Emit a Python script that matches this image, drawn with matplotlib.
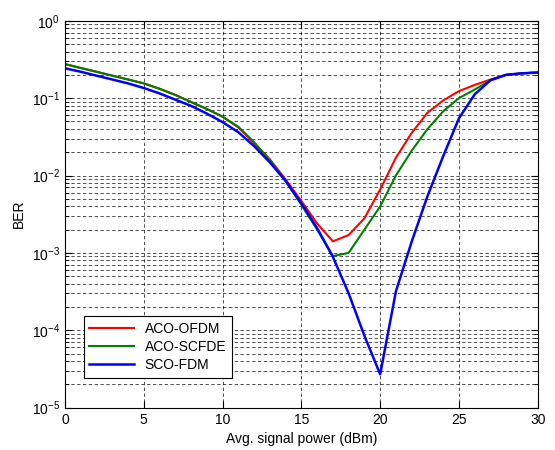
import matplotlib
matplotlib.use('Agg')
import matplotlib.pyplot as plt
from matplotlib.ticker import LogLocator, NullFormatter

plt.rcParams['font.family'] = ['Liberation Sans', 'DejaVu Sans']
plt.rcParams['font.size'] = 10

power = list(range(31))  # dBm

ber_aco_ofdm = [0.275, 0.245, 0.219, 0.195, 0.174, 0.155, 0.132, 0.110, 0.089, 0.0724,
                0.0575, 0.0417, 0.0263, 0.0162, 0.0089, 0.00468, 0.0024, 0.00141, 0.0017, 0.0028,
                0.0066, 0.017, 0.0355, 0.0646, 0.0933, 0.123, 0.148, 0.174, 0.200, 0.209, 0.214]
ber_aco_scfde = [0.275, 0.245, 0.219, 0.195, 0.174, 0.155, 0.132, 0.110, 0.089, 0.0724,
                 0.0575, 0.0427, 0.0269, 0.0158, 0.0085, 0.00417, 0.0020, 0.00091, 0.0010, 0.0020,
                 0.00398, 0.0100, 0.0209, 0.0398, 0.0676, 0.100, 0.129, 0.170, 0.200, 0.209, 0.214]
ber_sco_fdm = [0.243, 0.219, 0.195, 0.174, 0.155, 0.135, 0.115, 0.0955, 0.0794, 0.0631,
               0.049, 0.0363, 0.024, 0.0148, 0.0085, 0.00437, 0.00209, 0.00089, 0.00030, 8.5e-5,
               2.7e-5, 3.2e-4, 0.0014, 0.0054, 0.0178, 0.055, 0.112, 0.170, 0.200, 0.209, 0.214]

fig = plt.figure(figsize=(5.55, 4.5), dpi=100)
ax = fig.add_axes([0.117, 0.094, 0.852, 0.86])

ax.semilogy(power, ber_aco_ofdm, color='red', lw=1.5, label='ACO-OFDM')
ax.semilogy(power, ber_aco_scfde, color='green', lw=1.5, label='ACO-SCFDE')
ax.semilogy(power, ber_sco_fdm, color='blue', lw=1.8, label='SCO-FDM')

ax.set_xlim(0, 30)
ax.set_ylim(1e-5, 1)
ax.set_xticks([0, 5, 10, 15, 20, 25, 30])
ax.yaxis.set_major_locator(LogLocator(base=10, numticks=10))
ax.yaxis.set_minor_locator(LogLocator(base=10, subs=range(2, 10), numticks=20))
ax.yaxis.set_minor_formatter(NullFormatter())

ax.grid(True, which='major', color='black', ls=(0, (4, 3)), lw=0.6, alpha=0.8)
ax.grid(True, which='minor', axis='y', color='black', ls=(0, (4, 3)), lw=0.6, alpha=0.8)

ax.tick_params(which='both', direction='in', top=True, right=True)
ax.tick_params(which='major', length=5)
ax.tick_params(which='minor', length=3)
for s in ax.spines.values():
    s.set_linewidth(0.8)

ax.set_xlabel('Avg. signal power (dBm)')
ax.set_ylabel('BER')

leg = ax.legend(loc='lower left', bbox_to_anchor=(0.025, 0.06), fancybox=False,
                edgecolor='black', framealpha=1, handlelength=3.2, borderpad=0.4,
                labelspacing=0.3)
leg.get_frame().set_linewidth(0.8)

fig.savefig('out.png', dpi=100)
